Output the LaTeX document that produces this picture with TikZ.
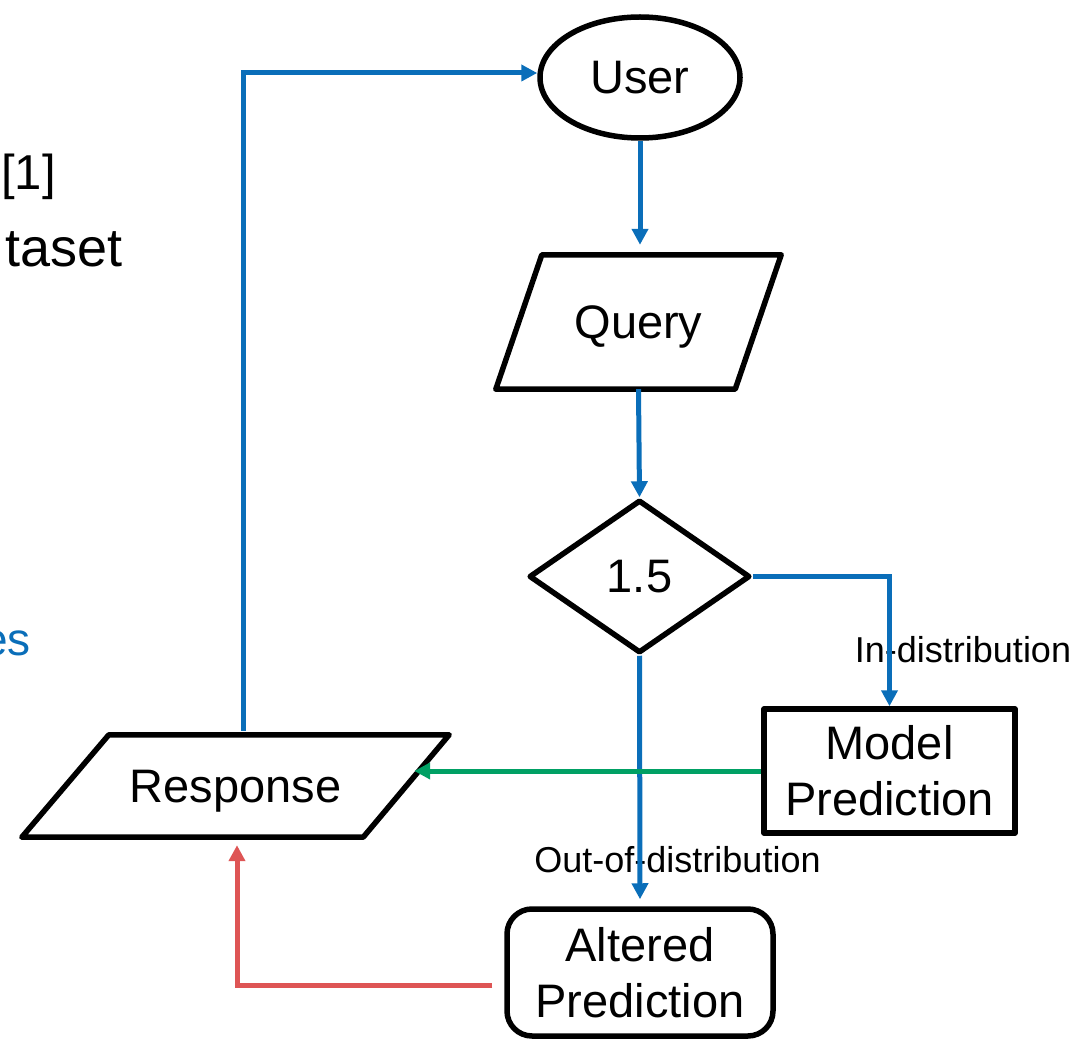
\documentclass[tikz,border=0pt]{standalone}
\usepackage{fontspec}
\setmainfont{Liberation Sans}
\usetikzlibrary{shapes.geometric,arrows.meta,calc}
\definecolor{cblue}{RGB}{10,110,185}
\definecolor{cgreen}{RGB}{0,160,100}
\definecolor{cred}{RGB}{222,85,85}
\begin{document}
\begin{tikzpicture}[x=1pt,y=-1pt,
  shapeline/.style={draw=black,line width=5.5pt,line join=round},
  bigtext/.style={font=\fontsize{47}{56}\selectfont},
  smalltext/.style={font=\fontsize{36}{40}\selectfont},
  conn/.style={line width=5pt,-{Triangle[length=16pt,width=16pt]}},
]
\useasboundingbox (0,0) rectangle (1079,1040);

% left fragments
\node[font=\fontsize{49}{56}\selectfont,anchor=base east,inner sep=0] (frag1) at (56,190) {[1]};
\node[font=\fontsize{54}{60}\selectfont,anchor=base east,inner sep=0] (frag2) at (123,267) {taset};
\node[font=\fontsize{46}{56}\selectfont,anchor=base east,inner sep=0,text=cblue] (frag3) at (31,655) {es};

% shapes
\node[shapeline,ellipse,minimum width=200pt,minimum height=121pt,inner sep=0,bigtext] (user) at (640,77.5) {User};

\node[minimum width=285pt,minimum height=134pt,inner sep=0,text depth=0pt,bigtext] (query) at (638.5,322) {Query};
\coordinate (queryNE) at ($(query.north west)+(46,0)$);
\coordinate (querySE) at ($(query.south east)+(-46,0)$);
\draw[shapeline] (queryNE) -- (query.north east) -- (querySE) -- (query.south west) -- cycle;

\node[shapeline,diamond,minimum width=221pt,minimum height=153pt,inner sep=0,bigtext] (dec) at (639.5,576.5) {1.5};

\node[shapeline,minimum width=251pt,minimum height=124pt,inner sep=0,align=center,bigtext] (model) at (889.5,771) {\rule{0pt}{5pt}Model\\Prediction};

\node[shapeline,rounded corners=25pt,minimum width=266pt,minimum height=127pt,inner sep=0,align=center,bigtext] (alt) at (640,972.5) {Altered\\Prediction};

\node[minimum width=427pt,minimum height=102pt,inner sep=0,text depth=0pt,bigtext] (resp) at (235.5,786) {Response};
\coordinate (respNW) at ($(resp.north west)+(87,0)$);
\coordinate (respSE) at ($(resp.south east)+(-86,0)$);
\draw[shapeline] (respNW) -- (resp.north east) -- (respSE) -- (resp.south west) -- cycle;
\coordinate (respE) at ($(resp.north east)!0.36!(respSE)$);

% labels
\node[smalltext,inner sep=0] (lin) at (963,650) {In-distribution};
\node[smalltext,inner sep=0] (lout) at (677.5,860) {Out-of-distribution};

% connectors
\draw[conn,cblue,shorten >=10pt] (user.south) -- (user.south |- query.north);
\draw[conn,cblue] (query.south) -- (dec.north);
\draw[conn,cblue] (dec.east) -| (model.north);
\draw[conn,cblue,shorten >=7pt] (dec.south) -- (alt.north);
\draw[conn,cgreen,shorten >=-4pt] (model.west) -- (model.west -| respE);
\coordinate (redstart) at ($(alt.west)+(-12,12.5)$);
\draw[conn,cred,shorten >=8pt] (redstart) -| ($(resp.south)+(1.5,0)$);
\coordinate (bluestart) at ($(resp.north)+(8,-4)$);
\draw[conn,cblue] (bluestart) |- ($(user.west)+(0,-4.5)$);
\end{tikzpicture}
\end{document}
